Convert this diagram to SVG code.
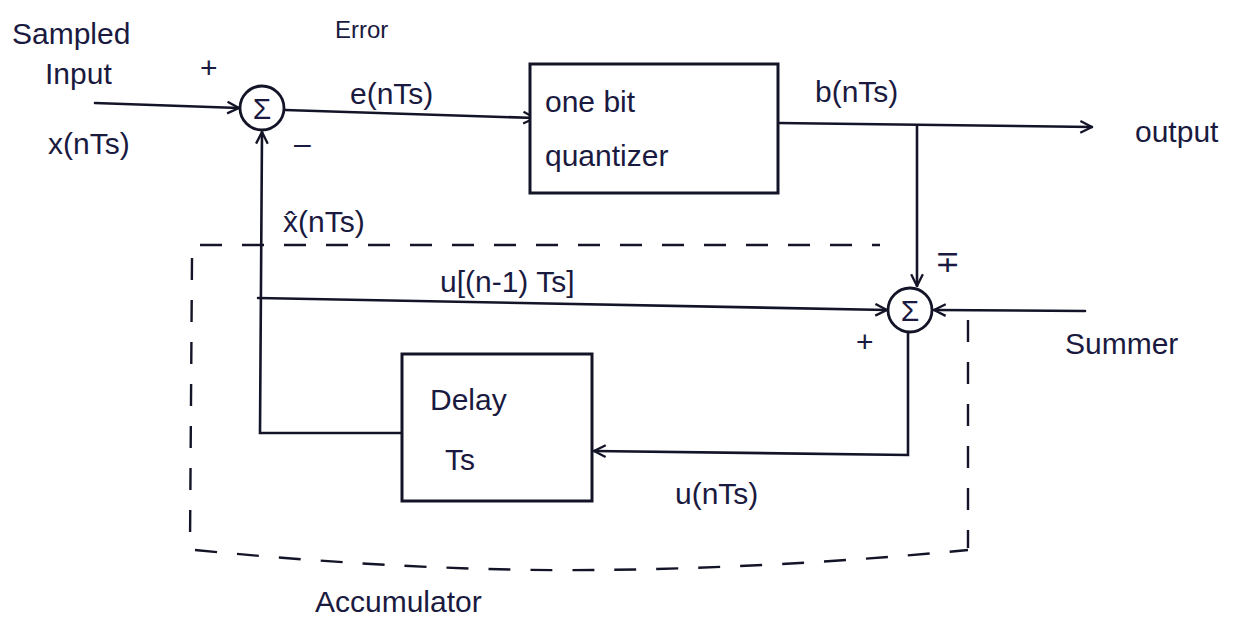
<svg xmlns="http://www.w3.org/2000/svg" width="1254" height="623" viewBox="0 0 1254 623">
<defs>
<marker id="arr" viewBox="0 0 12 12" refX="11" refY="6" markerWidth="14" markerHeight="14" markerUnits="userSpaceOnUse" orient="auto">
<path d="M1,1 L11,6 L1,11" fill="none" stroke="#141428" stroke-width="2"/>
</marker>
</defs>
<style>
.ln{fill:none;stroke:#141428;stroke-width:2.6;stroke-linecap:round}
.dash{fill:none;stroke:#141428;stroke-width:2.4;stroke-dasharray:22 20}
.box{fill:#fff;stroke:#141428;stroke-width:3}
.sum{fill:#fff;stroke:#141428;stroke-width:2.8}
text{font-family:"Liberation Sans","DejaVu Sans",sans-serif;fill:#1a1a40}
.t{font-size:30px}
.s{font-size:24px}
.g{font-size:30px;text-anchor:middle}
</style>
<rect width="1254" height="623" fill="#fff"/>
<g id="accumulator">
<path class="dash" d="M200,245 L880,245"/>
<path class="dash" d="M192,258 L190,545"/>
<path class="dash" d="M968,320 L968,548"/>
<path class="dash" d="M195,550 Q420,572 600,570 T968,550"/>
<text class="t" x="315" y="612">Accumulator</text>
</g>
<g id="connectors">
<path class="ln" d="M95,103 L239,108" marker-end="url(#arr)"/>
<path class="ln" d="M285,110 L535,118" marker-end="url(#arr)"/>
<path class="ln" d="M778,123 L1092,127" marker-end="url(#arr)"/>
<path class="ln" d="M917,126 L917,286" marker-end="url(#arr)"/>
<path class="ln" d="M1085,311 L934,310" marker-end="url(#arr)"/>
<path class="ln" d="M258,298 L887,310" marker-end="url(#arr)"/>
<path class="ln" d="M908,332 L908,455 L594,451" marker-end="url(#arr)"/>
<path class="ln" d="M402,433 L260,433 L262,132" marker-end="url(#arr)"/>
</g>
<g id="sum1">
<circle class="sum" cx="262" cy="108" r="22"/>
<text class="g" x="262" y="119">Σ</text>
</g>
<g id="quantizer">
<rect class="box" x="530" y="64" width="248" height="129"/>
<text class="t" x="545" y="112">one bit</text>
<text class="t" x="545" y="166">quantizer</text>
</g>
<g id="sum2">
<circle class="sum" cx="910" cy="310" r="22"/>
<text class="g" x="910" y="321">Σ</text>
</g>
<g id="delay">
<rect class="box" x="402" y="354" width="190" height="147"/>
<text class="t" x="430" y="410">Delay</text>
<text class="t" x="445" y="470">Ts</text>
</g>
<g id="labels">
<text class="t" x="12" y="44">Sampled</text>
<text class="t" x="45" y="84">Input</text>
<text class="t" x="48" y="154">x(nTs)</text>
<text class="t" x="200" y="78">+</text>
<text class="t" x="294" y="154">–</text>
<text class="s" x="335" y="38">Error</text>
<text class="t" x="350" y="104">e(nTs)</text>
<text class="t" x="815" y="102">b(nTs)</text>
<text class="t" x="1135" y="142">output</text>
<text class="t" x="283" y="232">x̂(nTs)</text>
<text class="t" x="440" y="292">u[(n-1) Ts]</text>
<text class="t" x="935" y="272">∓</text>
<text class="t" x="856" y="352">+</text>
<text class="t" x="1065" y="354">Summer</text>
<text class="t" x="675" y="504">u(nTs)</text>
</g>
</svg>
